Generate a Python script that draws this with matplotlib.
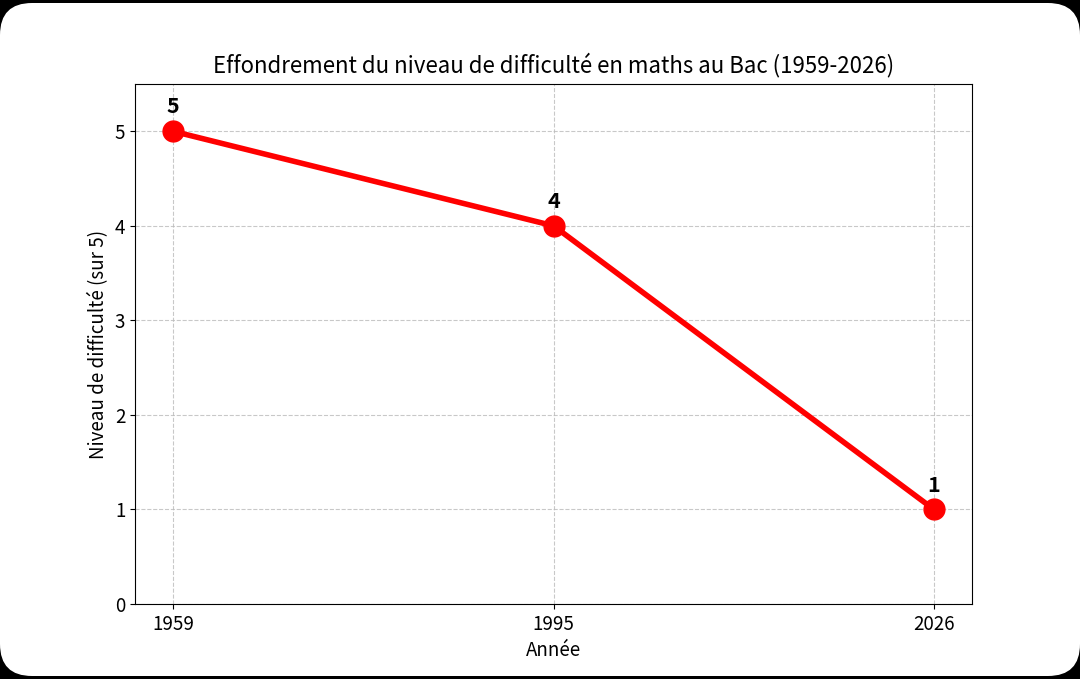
import matplotlib
matplotlib.use('Agg')
import matplotlib.pyplot as plt
from matplotlib.patches import FancyBboxPatch
from matplotlib.transforms import IdentityTransform

plt.rcParams['font.family'] = ['Noto Sans CJK JP', 'DejaVu Sans']

# data
annees = ['1959', '1995', '2026']
niveaux = [5, 4, 1]

W, H = 1080, 679
fig = plt.figure(figsize=(W / 100, H / 100), dpi=100)
fig.patch.set_facecolor('black')

# white rounded card (pixel coords, behind the axes)
card = FancyBboxPatch((0, 3), W, H - 6,
                      boxstyle='round,pad=0,rounding_size=32',
                      transform=IdentityTransform(), facecolor='white',
                      edgecolor='none', zorder=-5)
fig.patches.append(card)

ax = fig.add_axes([135 / W, 1 - 604 / H, (972 - 135) / W, (604 - 84) / H])
ax.set_facecolor('white')

x = list(range(len(annees)))
ax.plot(x, niveaux, color='red', linewidth=4, marker='o', markersize=15, zorder=3)

for xi, v in zip(x, niveaux):
    ax.annotate(str(v), (xi, v), xytext=(0, 10), textcoords='offset points',
                ha='center', va='bottom', fontsize=15.5, fontweight='bold')

ax.set_xticks(x)
ax.set_xticklabels(annees)
ax.set_xlim(-0.1, 2.1)
ax.set_ylim(0, 5.5)
ax.set_yticks(range(0, 6))
ax.tick_params(labelsize=13.5)

ax.grid(True, linestyle='--', color='#bbbbbb', alpha=0.8)

ax.set_title('Effondrement du niveau de difficulté en maths au Bac (1959-2026)',
             fontsize=16, pad=8)
ax.set_xlabel('Année', fontsize=13.5, labelpad=4)
ax.set_ylabel('Niveau de difficulté (sur 5)', fontsize=13.5)

fig.savefig('out.png', dpi=100, facecolor=fig.get_facecolor())
